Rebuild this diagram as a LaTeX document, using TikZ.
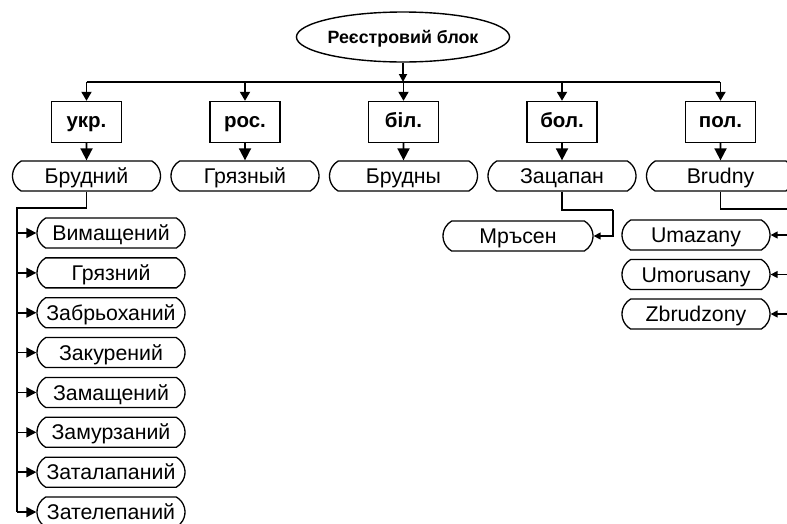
\documentclass[tikz,border=0pt]{standalone}
\usepackage{fontspec}
\setmainfont{Liberation Sans}
\usetikzlibrary{arrows.meta,shapes.geometric,shapes.misc}

\tikzset{
  langbox/.style={draw,line width=1.4pt,minimum width=70pt,minimum height=41pt,inner sep=0pt,
    font=\fontsize{20.5}{24}\selectfont\bfseries,text height=10.6pt,text depth=0pt},
  wordbox/.style={draw,rounded rectangle,rounded rectangle arc length=120,line width=1.3pt,
    minimum width=148pt,minimum height=30pt,inner sep=0pt,font=\fontsize{21.3}{24}\selectfont,
    text height=15.2pt,text depth=0pt},
  feed/.style={line width=1.8pt,-{Triangle[length=9pt,width=10pt]}},
  down/.style={line width=1.8pt,-{Triangle[length=12pt,width=12pt]}},
  leftarr/.style={line width=1.6pt,-{Triangle[length=10pt,width=10pt]}},
  rightarr/.style={line width=1.4pt,-{Triangle[length=7pt,width=7pt]}},
}

\begin{document}
\begin{tikzpicture}[x=1pt,y=-1pt]
  \useasboundingbox[clip] (0,0) rectangle (787,523);
  \node[draw,ellipse,line width=1.4pt,minimum width=200pt,minimum height=50pt,inner sep=0pt,
    font=\fontsize{17.8}{20}\selectfont\bfseries,text height=12.7pt,text depth=0pt]
    (reg) at (403,37) {Реєстровий блок};
  \coordinate (bus) at (403,82);
  \draw[line width=2.6pt] (86.5,82) -- (720,82);
  \draw[line width=1.8pt,-{Triangle[length=8pt,width=8pt]}] (reg) -- (bus);
  % languages
  \foreach \n/\l/\w [count=\i from 0] in {ukr/укр./Брудний, ros/рос./Грязный, bil/біл./Брудны,
      bol/бол./Зацапан, pol/пол./Brudny} {
    \node[langbox] (\n) at (86.5+158.5*\i,122) {\l};
    \node[wordbox] (w\n) at (86.5+158.5*\i,176) {\w};
    \draw[feed] (\n |- bus) -- (\n);
    \draw[down] (\n) -- (w\n);
  }
  % ukrainian synonyms
  \coordinate (lt) at (17,208);
  \foreach \w [count=\i from 0] in {Вимащений, Грязний, Забрьоханий, Закурений, Замащений,
      Замурзаний, Заталапаний, Зателепаний} {
    \node[wordbox] (u\i) at (111,233+39.86*\i) {\w};
    \draw[leftarr] (lt |- u\i.west) -- (u\i.west);
  }
  \draw[line width=1.8pt] (wukr.south) |- (lt) -- (lt |- u7.west);
  % bulgarian
  \node[wordbox,minimum width=150pt] (mrs) at (518,236) {Мръсен};
  \coordinate (bl) at (613,210);
  \draw[line width=1.8pt] (wbol.south) |- (bl);
  \draw[rightarr] (bl) |- (mrs.east);
  % polish
  \coordinate (pr) at (800,209);
  \foreach \w [count=\i from 0] in {Umazany, Umorusany, Zbrudzony} {
    \node[wordbox] (p\i) at (696,235+39.5*\i) {\w};
    \draw[rightarr] (pr |- p\i.east) -- (p\i.east);
  }
  \draw[line width=1.8pt] (wpol.south) |- (pr) -- (pr |- p2.east);
\end{tikzpicture}
\end{document}
